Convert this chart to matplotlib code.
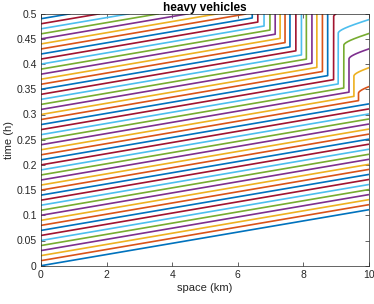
import numpy as np
import matplotlib
matplotlib.use("Agg")
import matplotlib.pyplot as plt

plt.rcParams['font.family'] = ['Liberation Sans', 'DejaVu Sans']

# departure times at x = 0 (h)
depart_times = [0.00, 0.01, 0.02, 0.03, 0.04, 0.05, 0.06, 0.07, 0.08, 0.09,
                0.10, 0.11, 0.12, 0.13, 0.14, 0.15, 0.16, 0.17, 0.18, 0.19,
                0.20, 0.21, 0.22, 0.23, 0.24, 0.25, 0.26, 0.27, 0.28, 0.29,
                0.30, 0.31, 0.32, 0.33, 0.34, 0.35, 0.36, 0.37, 0.38, 0.39,
                0.40, 0.41, 0.42, 0.43, 0.44, 0.45, 0.46, 0.47, 0.48, 0.49]
free_speed = 90.0      # km/h
discharge_speed = 50.0  # km/h
accel_time = 0.009     # h

# vehicles that stop in the queue: index -> stop position (km)
queue_vehicles = [22, 23, 24, 25, 26, 27, 28, 29, 30, 31, 32, 33, 34, 35,
                  36, 37, 38, 39, 40, 41, 42, 43]
queue_stop_pos = [9.68, 9.54, 9.39, 9.23, 9.06, 8.92, 8.74, 8.58, 8.41, 8.26,
                  8.09, 7.94, 7.77, 7.59, 7.44, 7.29, 7.14, 6.98, 6.80, 6.61,
                  6.44, 6.24]
# release times from the queue (h)
release_vehicles = [22, 23, 24, 25, 26, 27]
release_times = [0.342, 0.376, 0.410, 0.437, 0.461, 0.494]

x_max = 10.0
t_max = 0.5

colors = ['#0072BD', '#D95319', '#EDB120', '#7E2F8E', '#77AC30', '#4DBEEE', '#A2142F']

fig = plt.figure(figsize=(3.74, 3.04), dpi=100)
ax = fig.add_axes([41/374, (304-265.7)/304, (369-41)/374, (265.7-13.7)/304])

stop_map = dict(zip(queue_vehicles, queue_stop_pos))
rel_map = dict(zip(release_vehicles, release_times))

for i, t0 in enumerate(depart_times):
    xs_list, ts_list = [0.0], [t0]
    if i in stop_map:
        xs = stop_map[i]
        ts = t0 + xs / free_speed
        if ts >= t_max:
            xe = (t_max - t0) * free_speed
            xs_list.append(xe); ts_list.append(t_max)
        else:
            xs_list.append(xs); ts_list.append(ts)
            tr = rel_map.get(i, t_max)
            tr = max(tr, ts)
            xs_list.append(xs); ts_list.append(min(tr, t_max))
            if tr < t_max:
                tau = np.linspace(0, t_max - tr, 400)
                xx = xs + discharge_speed * (tau - accel_time * (1 - np.exp(-tau / accel_time)))
                mask = xx <= x_max + 0.05
                xs_list.extend(xx[mask]); ts_list.extend(tr + tau[mask])
    else:
        te = t0 + x_max / free_speed
        if te > t_max:
            xs_list.append((t_max - t0) * free_speed); ts_list.append(t_max)
        else:
            xs_list.append(x_max); ts_list.append(te)
    ax.plot(xs_list, ts_list, color=colors[i % 7], lw=1.2, solid_capstyle='butt',
            clip_on=True)

ax.set_xlim(0, 10)
ax.set_ylim(0, 0.5)
ax.set_xticks([0, 2, 4, 6, 8, 10])
ax.set_xticklabels(['0', '2', '4', '6', '8', '10'])
yt = [0, 0.05, 0.1, 0.15, 0.2, 0.25, 0.3, 0.35, 0.4, 0.45, 0.5]
ax.set_yticks(yt)
ax.set_yticklabels(['0', '0.05', '0.1', '0.15', '0.2', '0.25', '0.3', '0.35', '0.4', '0.45', '0.5'])
ax.tick_params(direction='in', length=3, width=0.5, top=True, right=True,
               labelsize=7.5, colors='#262626', pad=3)
for s in ax.spines.values():
    s.set_linewidth(0.5)
    s.set_color('#262626')
ax.set_xlabel('space (km)', fontsize=8, color='#262626', labelpad=2)
ax.set_ylabel('time (h)', fontsize=8, color='#262626', labelpad=2)
ax.set_title('heavy vehicles', fontsize=8.5, fontweight='bold', pad=2)

fig.savefig('out.png', dpi=100)
